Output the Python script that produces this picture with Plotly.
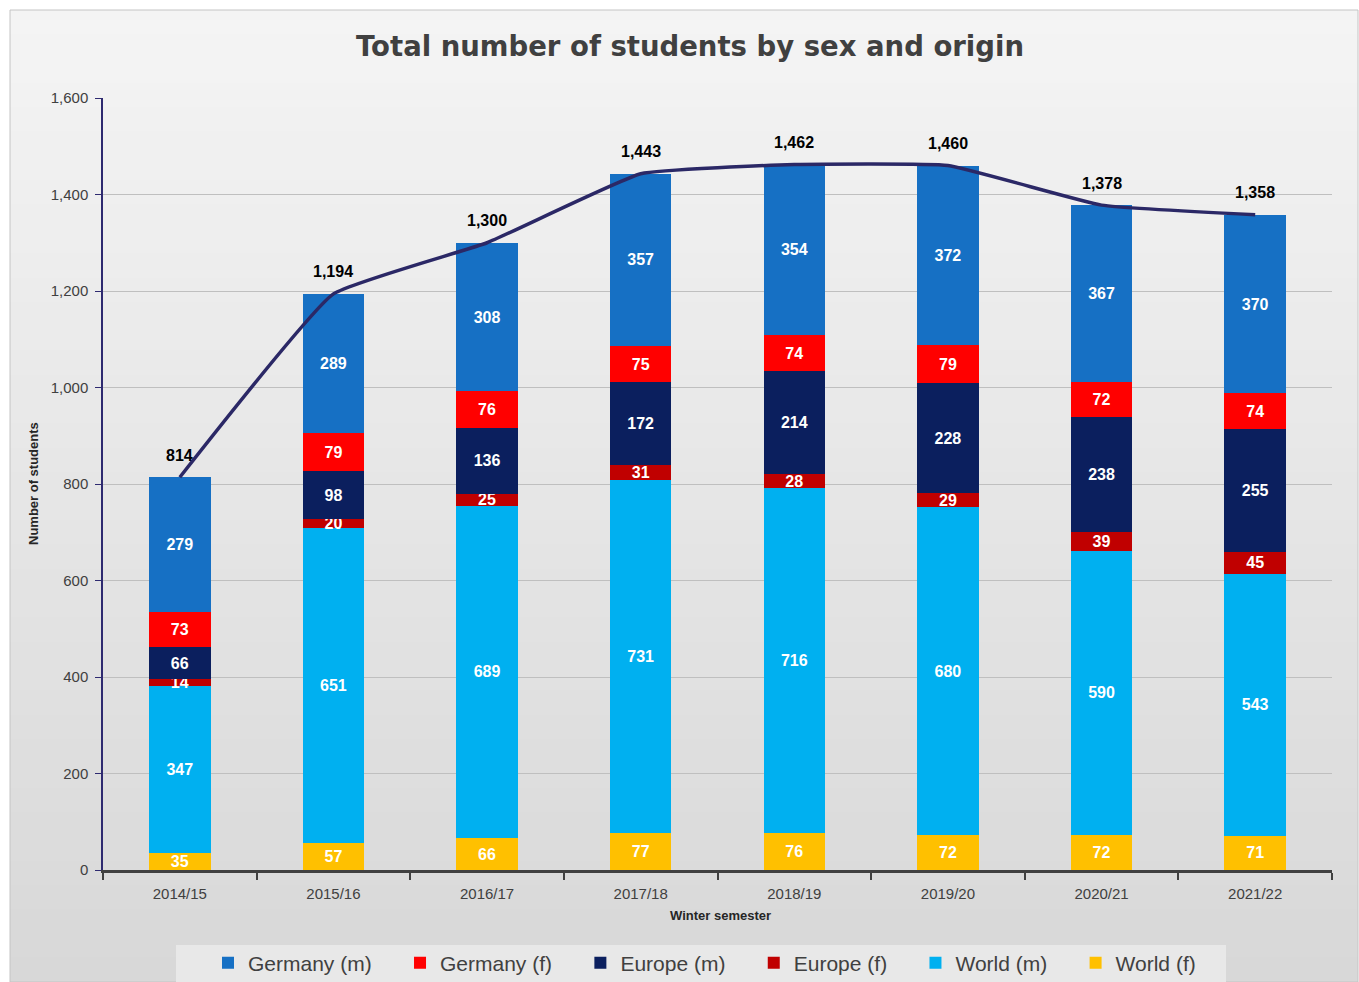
import plotly.graph_objects as go

semesters = ["2014/15", "2015/16", "2016/17", "2017/18", "2018/19", "2019/20", "2020/21", "2021/22"]
world_f = [35, 57, 66, 77, 76, 72, 72, 71]
world_m = [347, 651, 689, 731, 716, 680, 590, 543]
europe_f = [14, 20, 25, 31, 28, 29, 39, 45]
europe_m = [66, 98, 136, 172, 214, 228, 238, 255]
germany_f = [73, 79, 76, 75, 74, 79, 72, 74]
germany_m = [279, 289, 308, 357, 354, 372, 367, 370]
totals = [814, 1194, 1300, 1443, 1462, 1460, 1378, 1358]

series = [
    ("World (f)", world_f, "#FFC000"),
    ("World (m)", world_m, "#00B0F0"),
    ("Europe (f)", europe_f, "#C00000"),
    ("Europe (m)", europe_m, "#0B1F5E"),
    ("Germany (f)", germany_f, "#FF0000"),
    ("Germany (m)", germany_m, "#1670C4"),
]
legend_order = ["Germany (m)", "Germany (f)", "Europe (m)", "Europe (f)", "World (m)", "World (f)"]

W, H = 1359, 982
L, R, T, B = 103, 27, 98, 112
PW, PH = W - L - R, H - T - B


def px(x):
    return (x - L) / PW


def py(y):
    return (H - B - y) / PH


fig = go.Figure()
for name, vals, color in series:
    fig.add_trace(go.Bar(
        x=semesters, y=vals, name=name + "\u00a0" * 4,
        marker=dict(color=color, line=dict(width=0)),
        text=[str(v) for v in vals],
        textposition="inside", insidetextanchor="middle",
        textfont=dict(family="Liberation Sans, Arial", size=16, color="white", weight="bold"),
        legendrank=legend_order.index(name) + 1,
        width=0.40,
        hoverinfo="skip",
    ))

fig.add_trace(go.Scatter(
    x=semesters, y=totals, mode="lines", name="Total",
    line=dict(color="#2B2866", width=3.5, shape="spline", smoothing=0.35),
    showlegend=False, hoverinfo="skip",
))

# background gradient and frame
shapes = []
n = 40
top_c = (244, 244, 244)
bot_c = (216, 216, 216)
y0p, y1p = 10, H
for i in range(n):
    t = i / (n - 1)
    c = tuple(int(round(top_c[k] + (bot_c[k] - top_c[k]) * t)) for k in range(3))
    ya = y0p + (y1p - y0p) * i / n
    yb = y0p + (y1p - y0p) * (i + 1) / n
    shapes.append(dict(type="rect", xref="paper", yref="paper",
                       x0=px(10), x1=px(1358), y0=py(ya), y1=py(yb + 1),
                       fillcolor=f"rgb{c}", line=dict(width=0), layer="below"))
shapes.append(dict(type="rect", xref="paper", yref="paper",
                   x0=px(10), x1=px(1358), y0=py(10), y1=py(H),
                   fillcolor="rgba(0,0,0,0)", line=dict(width=1, color="#c4c4c4"), layer="below"))
# legend box
shapes.append(dict(type="rect", xref="paper", yref="paper",
                   x0=px(176), x1=px(1226), y0=py(945), y1=py(982),
                   fillcolor="#E8E8E8", line=dict(width=0), layer="below"))

annotations = [
    dict(text="<b>Number of students</b>", xref="paper", yref="paper", x=px(33), y=0.5,
         xanchor="center", yanchor="middle",
         textangle=-90, showarrow=False, font=dict(family="Liberation Sans, Arial", size=13, color="#262626")),
    dict(text="<b>Winter semester</b>", xref="paper", yref="paper", x=px(720), y=py(915),
         xanchor="center", yanchor="middle",
         showarrow=False, font=dict(family="Liberation Sans, Arial", size=13, color="#262626")),
]
for s, v in zip(semesters, totals):
    annotations.append(dict(text=f"<b>{v:,}</b>", x=s, y=v, xref="x", yref="y", yshift=22,
                            xanchor="center", yanchor="middle", showarrow=False,
                            font=dict(family="Liberation Sans, Arial", size=16, color="black")))

fig.update_layout(
    width=W, height=H,
    margin=dict(l=L, r=R, t=T, b=B, autoexpand=False),
    paper_bgcolor="white", plot_bgcolor="rgba(0,0,0,0)",
    barmode="stack", bargap=0.6,
    title=dict(text="<b>Total number of students by sex and origin</b>", xref="container", x=690 / W,
               xanchor="center", y=1 - 46 / H, yanchor="middle",
               font=dict(family="DejaVu Sans, Verdana", size=27.5, color="#404040")),
    font=dict(family="Liberation Sans, Arial", size=15, color="#404040"),
    uniformtext=dict(minsize=16, mode="show"),
    shapes=shapes, annotations=annotations,
    legend=dict(orientation="h", x=px(208), xanchor="left", y=py(963), yanchor="middle",
                bgcolor="rgba(0,0,0,0)", font=dict(family="Liberation Sans, Arial", size=21, color="#404040"),
                traceorder="normal", itemclick=False, itemdoubleclick=False),
    xaxis=dict(showgrid=False, showline=True, linecolor="#404040", linewidth=2.5,
               ticks="outside", tickson="boundaries", ticklen=7, tickwidth=2, tickcolor="#404040",
               ticklabelstandoff=8,
               tickfont=dict(size=15, color="#404040"), range=[-0.5, 7.5]),
    yaxis=dict(range=[0, 1600], dtick=200, tickformat=",", showgrid=True, gridcolor="#BFBFBF", gridwidth=1,
               showline=True, linecolor="#2E2A70", linewidth=1.5, ticks="outside", ticklen=6,
               ticklabelstandoff=4,
               tickcolor="#2E2A70", tickfont=dict(size=15, color="#404040"), zeroline=False),
)

fig.write_html("out.html", post_script="document.body.style.margin='0';",
               config={"displayModeBar": False})
